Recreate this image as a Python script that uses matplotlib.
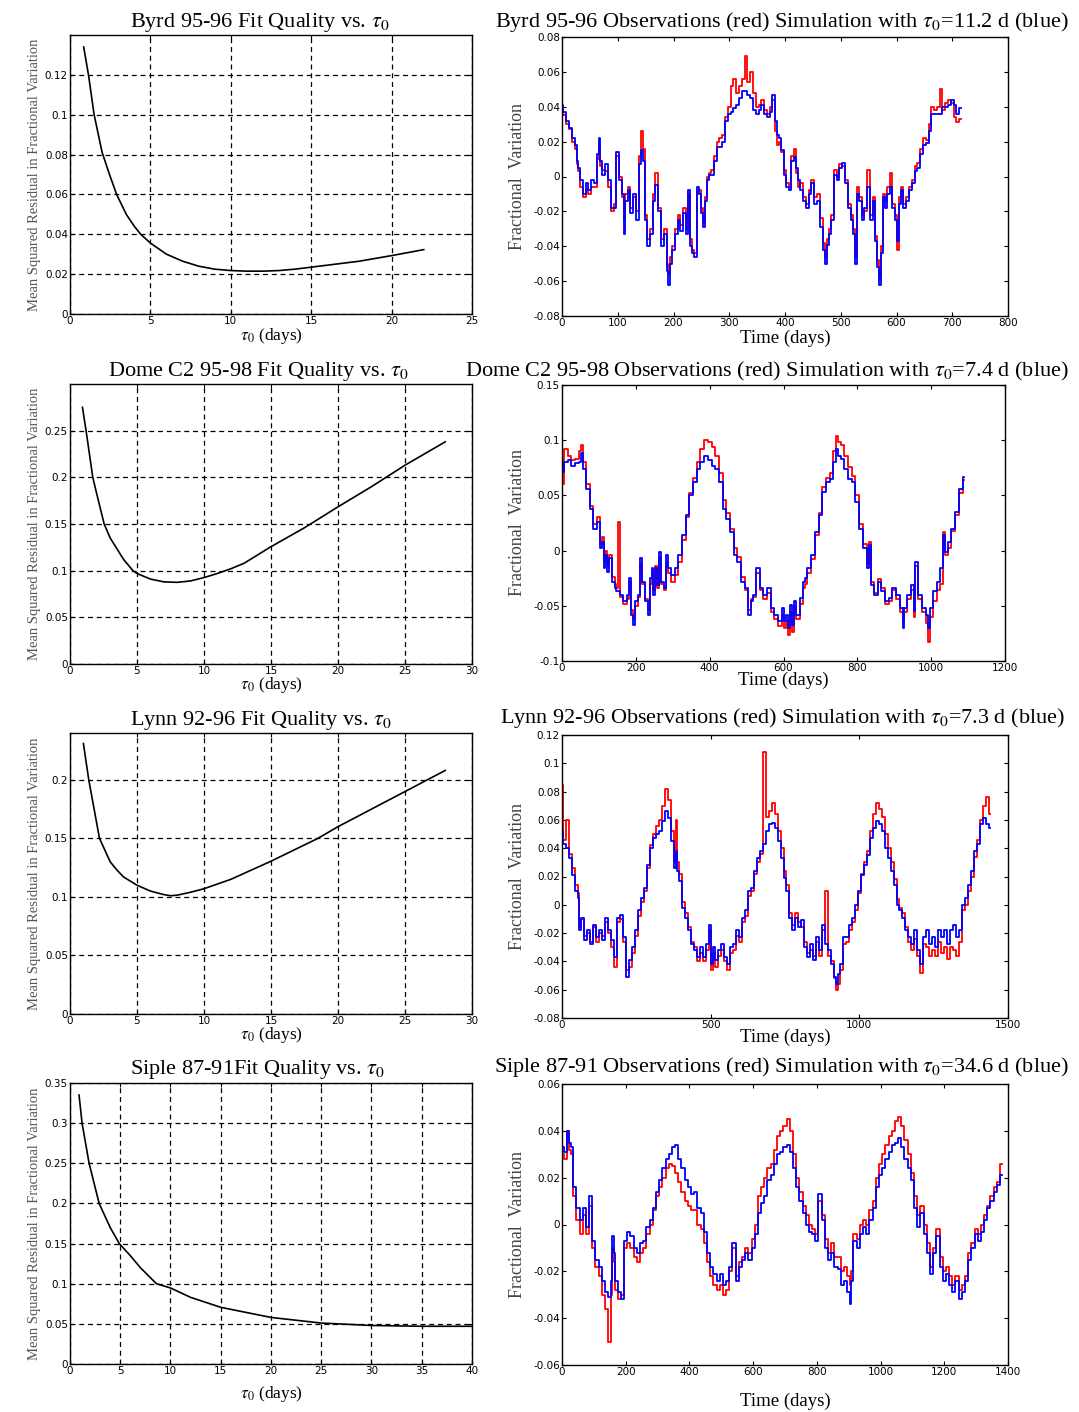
import numpy as np
import matplotlib
matplotlib.use("Agg")
import matplotlib.pyplot as plt

plt.rcParams['font.family'] = ['Liberation Serif', 'DejaVu Serif']
plt.rcParams['mathtext.fontset'] = 'stix'

# ---- fit quality curves (tau0 in days, mean squared residual) ----
byrd_tau = [0.85, 1.0, 1.15, 1.5, 2.0, 2.5, 2.9, 3.5, 4.0, 4.4, 5, 6, 7, 8, 9, 10,
            11, 12, 13, 14, 15, 16, 18, 20, 22]
byrd_msr = [0.134, 0.127, 0.12, 0.1, 0.081, 0.069, 0.06, 0.05, 0.044, 0.04, 0.0356,
            0.030, 0.0265, 0.024, 0.0225, 0.0218, 0.0215, 0.0215, 0.0218, 0.0225,
            0.0235, 0.0245, 0.0265, 0.0293, 0.0323]

dome_tau = [0.93, 1.2, 1.7, 2.0, 2.55, 3, 4, 4.7, 5, 6, 7, 8, 9, 10, 11, 12, 13, 15,
            17.5, 20, 22.5, 25, 28]
dome_msr = [0.275, 0.25, 0.2, 0.182, 0.15, 0.135, 0.112, 0.1, 0.097, 0.091, 0.088,
            0.0875, 0.089, 0.0926, 0.097, 0.102, 0.108, 0.1257, 0.146, 0.1684, 0.19,
            0.213, 0.238]

lynn_tau = [1.0, 1.4, 2.2, 3, 3.5, 4, 5, 6, 7, 7.5, 8, 9, 10, 12, 15, 18.5, 20, 25, 28]
lynn_msr = [0.231, 0.2, 0.15, 0.13, 0.123, 0.117, 0.11, 0.105, 0.102, 0.101, 0.1015,
            0.104, 0.107, 0.115, 0.1305, 0.15, 0.16, 0.19, 0.208]

siple_tau = [0.9, 1.2, 1.9, 2.9, 4, 4.9, 6, 7, 8.6, 10, 12, 15, 20, 25, 30, 35, 40]
siple_msr = [0.335, 0.3, 0.25, 0.2, 0.17, 0.15, 0.135, 0.12, 0.1, 0.0947, 0.083,
             0.0706, 0.058, 0.051, 0.048, 0.047, 0.047]

# ---- Byrd 95-96 time series ----
byrd_t = [0, 5, 10, 15, 20, 25, 28, 30, 35, 40,
          45, 50, 55, 60, 65, 68, 70, 75, 80, 85,
          90, 95, 100, 105, 110, 112, 115, 120, 125, 130,
          135, 140, 143, 147, 150, 155, 160, 165, 170, 175,
          180, 185, 190, 192, 195, 200, 205, 210, 215, 220,
          225, 228, 230, 235, 240, 243, 247, 250, 255, 258,
          262, 265, 270, 275, 280, 285, 290, 295, 300, 305,
          310, 315, 320, 325, 330, 335, 340, 345, 350, 355,
          360, 365, 370, 375, 380, 383, 387, 390, 395, 400,
          405, 410, 413, 418, 420, 425, 430, 435, 440, 445,
          450, 455, 460, 465, 470, 473, 477, 480, 485, 490,
          495, 500, 505, 510, 515, 520, 523, 527, 530, 535,
          540, 545, 550, 555, 560, 563, 567, 570, 573, 577,
          580, 585, 590, 595, 600, 603, 607, 610, 615, 620,
          625, 630, 635, 640, 645, 650, 655, 660, 665, 670,
          675, 680, 685, 690, 695, 700, 705, 710, 715]
byrd_sim = [0.041, 0.037, 0.032, 0.028, 0.022, 0.018, 0.009, 0.005, -0.002, -0.010,
            -0.004, -0.008, -0.002, -0.004, 0.013, 0.022, 0.009, 0.001, 0.007, -0.002,
            -0.018, -0.018, 0.014, -0.002, -0.010, -0.033, -0.014, -0.008, -0.021, -0.010,
            -0.025, 0.007, 0.015, 0.009, -0.025, -0.040, -0.033, -0.014, -0.005, -0.020,
            -0.040, -0.033, -0.054, -0.062, -0.050, -0.042, -0.033, -0.025, -0.031, -0.021,
            -0.033, -0.008, -0.040, -0.044, -0.046, -0.006, -0.010, -0.021, -0.029, -0.014,
            -0.002, 0.001, 0.001, 0.009, 0.017, 0.017, 0.020, 0.032, 0.036, 0.037,
            0.039, 0.041, 0.045, 0.049, 0.049, 0.047, 0.045, 0.038, 0.036, 0.038,
            0.041, 0.036, 0.034, 0.037, 0.047, 0.032, 0.024, 0.022, 0.015, 0.001,
            -0.006, -0.008, 0.009, 0.011, 0.005, -0.002, -0.008, -0.014, -0.018, -0.010,
            -0.004, -0.016, -0.014, -0.029, -0.042, -0.050, -0.039, -0.033, -0.025, 0.001,
            -0.002, 0.005, 0.008, -0.004, -0.018, -0.025, -0.033, -0.050, -0.010, -0.014,
            -0.025, -0.018, -0.006, -0.025, -0.014, -0.037, -0.052, -0.062, -0.044, -0.012,
            -0.018, -0.010, -0.006, -0.018, -0.025, -0.037, -0.016, -0.008, -0.018, -0.014,
            -0.008, -0.004, 0.003, 0.005, 0.013, 0.018, 0.019, 0.026, 0.036, 0.036,
            0.036, 0.036, 0.040, 0.040, 0.041, 0.044, 0.041, 0.036, 0.039]
byrd_obs = [0.038, 0.035, 0.030, 0.027, 0.020, 0.016, 0.007, 0.003, -0.006, -0.012,
            -0.008, -0.010, -0.006, -0.006, 0.010, 0.018, 0.006, 0.004, 0.003, -0.006,
            -0.020, -0.016, 0.012, 0.000, -0.012, -0.025, -0.010, -0.006, -0.018, -0.012,
            -0.020, 0.012, 0.026, 0.016, -0.022, -0.036, -0.030, -0.010, 0.002, -0.018,
            -0.036, -0.030, -0.050, -0.056, -0.046, -0.040, -0.030, -0.022, -0.028, -0.018,
            -0.030, -0.010, -0.036, -0.042, -0.044, -0.008, -0.008, -0.018, -0.026, -0.012,
            0.000, 0.002, 0.004, 0.012, 0.020, 0.022, 0.024, 0.034, 0.040, 0.052,
            0.056, 0.048, 0.052, 0.056, 0.069, 0.054, 0.060, 0.048, 0.040, 0.041,
            0.044, 0.038, 0.036, 0.040, 0.044, 0.026, 0.018, 0.020, 0.014, 0.004,
            -0.004, -0.006, 0.012, 0.016, 0.002, -0.006, -0.004, -0.012, -0.016, -0.008,
            -0.002, -0.012, -0.010, -0.024, -0.038, -0.046, -0.036, -0.030, -0.022, 0.004,
            0.000, 0.007, 0.006, -0.002, -0.016, -0.022, -0.030, -0.046, -0.006, -0.012,
            -0.022, -0.020, 0.004, -0.022, -0.012, -0.034, -0.048, -0.058, -0.040, -0.010,
            -0.014, -0.006, 0.002, -0.016, -0.022, -0.042, -0.012, -0.006, -0.016, -0.012,
            -0.006, -0.002, 0.006, 0.008, 0.016, 0.022, 0.021, 0.030, 0.040, 0.038,
            0.040, 0.050, 0.038, 0.042, 0.044, 0.042, 0.034, 0.031, 0.033]

# ---- Dome C2 95-98 time series ----
dome_t = [0, 10, 20, 30, 40, 50, 55, 60, 70, 80,
          90, 100, 105, 110, 115, 120, 125, 130, 140, 145,
          150, 155, 160, 170, 180, 185, 190, 195, 200, 210,
          215, 220, 230, 235, 240, 245, 250, 255, 260, 265,
          270, 280, 285, 290, 300, 310, 320, 330, 340, 350,
          360, 370, 380, 390, 400, 410, 420, 430, 440, 450,
          460, 470, 480, 490, 500, 510, 515, 520, 530, 540,
          550, 560, 570, 580, 590, 600, 605, 610, 615, 620,
          625, 630, 640, 650, 655, 660, 670, 680, 690, 700,
          710, 720, 730, 740, 745, 750, 760, 770, 780, 790,
          800, 810, 820, 830, 835, 840, 850, 860, 870, 880,
          890, 900, 910, 920, 925, 930, 940, 950, 955, 960,
          970, 980, 990, 995, 1000, 1010, 1020, 1030, 1035, 1040,
          1050, 1060, 1070, 1080, 1090]
dome_sim = [0.071, 0.080, 0.082, 0.077, 0.079, 0.080, 0.088, 0.074, 0.056, 0.038,
            0.020, 0.026, 0.002, 0.008, -0.016, -0.004, -0.019, -0.007, -0.028, -0.034,
            -0.037, -0.037, -0.040, -0.046, -0.040, -0.025, -0.058, -0.067, -0.046, -0.040,
            -0.007, -0.028, -0.046, -0.058, -0.025, -0.016, -0.040, -0.016, -0.031, -0.001,
            -0.028, -0.034, -0.004, -0.016, -0.022, -0.016, -0.004, 0.014, 0.032, 0.050,
            0.062, 0.074, 0.080, 0.086, 0.082, 0.077, 0.074, 0.062, 0.038, 0.029,
            0.017, -0.004, -0.010, -0.028, -0.034, -0.058, -0.046, -0.040, -0.016, -0.034,
            -0.040, -0.034, -0.052, -0.058, -0.064, -0.052, -0.064, -0.058, -0.070, -0.049,
            -0.067, -0.046, -0.058, -0.043, -0.028, -0.025, -0.016, -0.004, 0.017, 0.032,
            0.053, 0.062, 0.065, 0.080, 0.092, 0.086, 0.083, 0.074, 0.065, 0.062,
            0.044, 0.020, 0.002, -0.016, 0.005, -0.031, -0.040, -0.028, -0.037, -0.046,
            -0.043, -0.034, -0.040, -0.052, -0.070, -0.052, -0.040, -0.031, -0.055, -0.010,
            -0.040, -0.052, -0.058, -0.070, -0.052, -0.037, -0.028, -0.016, 0.014, -0.001,
            0.008, 0.020, 0.035, 0.056, 0.067]
dome_obs = [0.060, 0.092, 0.086, 0.082, 0.083, 0.090, 0.096, 0.080, 0.060, 0.040,
            0.024, 0.030, 0.006, 0.012, -0.010, 0.000, -0.014, -0.004, -0.024, -0.030,
            -0.034, 0.026, -0.042, -0.048, -0.044, -0.028, -0.054, -0.062, -0.050, -0.042,
            -0.012, -0.030, -0.044, -0.054, -0.030, -0.020, -0.036, -0.014, -0.034, -0.006,
            -0.030, -0.036, -0.010, -0.020, -0.028, -0.022, -0.010, 0.010, 0.030, 0.052,
            0.066, 0.080, 0.092, 0.100, 0.098, 0.094, 0.086, 0.070, 0.046, 0.034,
            0.020, 0.002, -0.006, -0.024, -0.036, -0.054, -0.044, -0.042, -0.020, -0.036,
            -0.044, -0.038, -0.056, -0.062, -0.068, -0.058, -0.070, -0.064, -0.076, -0.056,
            -0.074, -0.050, -0.062, -0.048, -0.034, -0.030, -0.020, -0.008, 0.014, 0.034,
            0.058, 0.066, 0.070, 0.090, 0.104, 0.098, 0.096, 0.086, 0.076, 0.068,
            0.050, 0.024, 0.006, -0.012, 0.008, -0.028, -0.038, -0.026, -0.034, -0.048,
            -0.046, -0.036, -0.044, -0.056, -0.064, -0.056, -0.044, -0.036, -0.060, -0.014,
            -0.044, -0.056, -0.066, -0.083, -0.060, -0.046, -0.036, -0.030, 0.017, -0.004,
            0.002, 0.018, 0.032, 0.052, 0.064]

# ---- Lynn 92-96 time series ----
lynn_t = [0, 10, 20, 30, 40, 50, 55, 60, 70, 80,
          90, 100, 110, 120, 130, 140, 150, 160, 170, 180,
          190, 200, 210, 220, 230, 240, 250, 260, 270, 280,
          290, 300, 310, 320, 330, 340, 350, 360, 370, 380,
          385, 390, 400, 410, 420, 430, 440, 450, 460, 470,
          480, 490, 500, 505, 510, 520, 530, 540, 550, 560,
          570, 580, 590, 600, 610, 620, 630, 640, 650, 660,
          670, 680, 690, 700, 710, 720, 730, 740, 750, 760,
          770, 780, 790, 800, 810, 820, 830, 840, 850, 860,
          870, 880, 890, 900, 910, 920, 925, 930, 940, 950,
          960, 970, 980, 990, 1000, 1010, 1020, 1030, 1040, 1050,
          1060, 1070, 1080, 1090, 1100, 1110, 1120, 1130, 1140, 1150,
          1160, 1170, 1180, 1190, 1200, 1210, 1220, 1230, 1240, 1250,
          1260, 1270, 1280, 1290, 1300, 1310, 1320, 1330, 1340, 1350,
          1360, 1370, 1380, 1390, 1400, 1410, 1420, 1430, 1440]
lynn_sim = [0.052, 0.043, 0.040, 0.033, 0.021, 0.010, 0.005, -0.018, -0.009, -0.025,
            -0.018, -0.028, -0.014, -0.023, -0.018, -0.025, -0.009, -0.018, -0.025, -0.037,
            -0.009, -0.007, -0.023, -0.051, -0.039, -0.030, -0.018, -0.004, 0.005, 0.012,
            0.028, 0.040, 0.047, 0.050, 0.052, 0.059, 0.066, 0.061, 0.045, 0.026,
            0.038, 0.024, 0.017, -0.002, -0.009, -0.018, -0.028, -0.032, -0.037, -0.030,
            -0.037, -0.028, -0.014, -0.042, -0.030, -0.039, -0.032, -0.028, -0.037, -0.042,
            -0.030, -0.028, -0.018, -0.023, -0.009, -0.004, 0.010, 0.012, 0.024, 0.033,
            0.038, 0.043, 0.052, 0.057, 0.058, 0.054, 0.045, 0.033, 0.019, 0.010,
            -0.009, -0.018, -0.009, -0.016, -0.011, -0.030, -0.037, -0.028, -0.039, -0.023,
            -0.032, -0.014, -0.028, -0.032, -0.042, -0.051, -0.056, -0.049, -0.042, -0.023,
            -0.023, -0.014, -0.009, 0.000, 0.010, 0.021, 0.028, 0.035, 0.047, 0.054,
            0.059, 0.057, 0.052, 0.040, 0.033, 0.024, 0.014, 0.000, -0.004, -0.009,
            -0.018, -0.023, -0.028, -0.018, -0.032, -0.042, -0.023, -0.018, -0.028, -0.023,
            -0.030, -0.018, -0.023, -0.018, -0.028, -0.018, -0.014, -0.023, -0.018, 0.000,
            0.005, 0.014, 0.024, 0.038, 0.043, 0.057, 0.061, 0.057, 0.054]
lynn_obs = [0.085, 0.046, 0.060, 0.036, 0.026, 0.014, 0.008, -0.016, -0.010, -0.022,
            -0.020, -0.026, -0.016, -0.026, -0.020, -0.022, -0.012, -0.020, -0.030, -0.044,
            -0.012, -0.010, -0.026, -0.046, -0.044, -0.034, -0.022, -0.008, 0.002, 0.010,
            0.026, 0.042, 0.050, 0.056, 0.060, 0.070, 0.082, 0.074, 0.052, 0.030,
            0.060, 0.030, 0.022, 0.002, -0.006, -0.016, -0.026, -0.030, -0.040, -0.034,
            -0.040, -0.032, -0.018, -0.046, -0.034, -0.044, -0.036, -0.032, -0.040, -0.046,
            -0.034, -0.032, -0.022, -0.026, -0.012, -0.008, 0.006, 0.010, 0.022, 0.030,
            0.036, 0.108, 0.062, 0.066, 0.072, 0.064, 0.052, 0.040, 0.024, 0.014,
            -0.006, -0.014, -0.006, -0.012, -0.016, -0.026, -0.034, -0.032, -0.036, -0.026,
            -0.036, -0.018, 0.010, -0.036, -0.040, -0.052, -0.060, -0.056, -0.046, -0.028,
            -0.026, -0.018, -0.012, -0.004, 0.008, 0.022, 0.030, 0.038, 0.052, 0.064,
            0.072, 0.068, 0.062, 0.050, 0.040, 0.030, 0.018, 0.004, -0.002, -0.006,
            -0.016, -0.026, -0.032, -0.024, -0.036, -0.048, -0.028, -0.030, -0.036, -0.032,
            -0.036, -0.026, -0.034, -0.030, -0.038, -0.030, -0.032, -0.036, -0.026, -0.004,
            0.000, 0.010, 0.020, 0.034, 0.046, 0.060, 0.070, 0.076, 0.064]

# ---- Siple 87-91 time series ----
siple_t = [0, 10, 20, 25, 30, 40, 50, 60, 70, 80,
           90, 100, 110, 120, 130, 140, 150, 155, 160, 165,
           170, 180, 190, 200, 210, 220, 230, 240, 250, 260,
           270, 280, 290, 300, 310, 320, 330, 340, 350, 360,
           370, 380, 390, 400, 410, 420, 430, 440, 450, 460,
           470, 480, 490, 500, 510, 520, 530, 540, 550, 560,
           570, 580, 590, 600, 610, 620, 630, 640, 650, 660,
           670, 680, 690, 700, 710, 720, 730, 740, 750, 760,
           770, 780, 790, 800, 810, 820, 830, 840, 850, 860,
           870, 880, 890, 900, 905, 910, 920, 930, 940, 950,
           960, 970, 980, 990, 1000, 1010, 1020, 1030, 1040, 1050,
           1060, 1070, 1080, 1090, 1100, 1110, 1120, 1130, 1140, 1150,
           1160, 1170, 1180, 1190, 1200, 1210, 1220, 1230, 1240, 1250,
           1260, 1270, 1280, 1290, 1300, 1310, 1320, 1330, 1340, 1350,
           1360, 1370, 1380]
siple_sim = [0.033, 0.031, 0.040, 0.035, 0.033, 0.016, 0.007, 0.002, 0.007, -0.001,
             0.012, -0.007, -0.015, -0.018, -0.024, -0.029, -0.031, -0.024, -0.005, -0.012,
             -0.024, -0.029, -0.032, -0.007, -0.003, -0.005, -0.010, -0.012, -0.008, -0.007,
             -0.001, 0.002, 0.007, 0.014, 0.019, 0.024, 0.028, 0.030, 0.033, 0.034,
             0.028, 0.024, 0.019, 0.016, 0.013, 0.014, 0.007, 0.005, -0.003, -0.012,
             -0.018, -0.021, -0.024, -0.021, -0.026, -0.024, -0.018, -0.008, -0.024, -0.018,
             -0.015, -0.012, -0.015, -0.010, -0.004, 0.005, 0.009, 0.012, 0.019, 0.021,
             0.026, 0.030, 0.031, 0.033, 0.034, 0.031, 0.024, 0.016, 0.010, 0.005,
             0.000, -0.003, -0.004, -0.007, 0.013, 0.002, -0.010, -0.015, -0.012, -0.018,
             -0.019, -0.026, -0.024, -0.029, -0.034, -0.024, -0.007, -0.010, -0.004, -0.001,
             -0.004, 0.002, 0.007, 0.016, 0.021, 0.024, 0.028, 0.031, 0.034, 0.035,
             0.037, 0.033, 0.028, 0.024, 0.019, 0.007, -0.001, 0.005, -0.004, -0.012,
             -0.021, -0.012, -0.005, -0.018, -0.024, -0.021, -0.026, -0.029, -0.024, -0.032,
             -0.029, -0.024, -0.015, -0.010, -0.004, -0.007, -0.003, 0.002, 0.007, 0.010,
             0.014, 0.017, 0.021]
siple_obs = [0.030, 0.028, 0.040, 0.032, 0.030, 0.012, 0.002, -0.004, 0.004, -0.004,
             0.008, -0.010, -0.018, -0.022, -0.030, -0.036, -0.050, -0.030, -0.010, -0.016,
             -0.028, -0.032, -0.030, -0.010, -0.008, -0.010, -0.014, -0.016, -0.012, -0.010,
             -0.004, 0.000, 0.006, 0.012, 0.016, 0.020, 0.024, 0.026, 0.025, 0.022,
             0.018, 0.014, 0.010, 0.008, 0.006, 0.006, 0.000, -0.002, -0.008, -0.016,
             -0.022, -0.026, -0.028, -0.026, -0.030, -0.028, -0.020, -0.010, -0.022, -0.016,
             -0.014, -0.010, -0.012, -0.006, 0.000, 0.012, 0.016, 0.020, 0.024, 0.026,
             0.032, 0.038, 0.040, 0.042, 0.045, 0.040, 0.030, 0.020, 0.014, 0.008,
             0.004, 0.000, -0.002, -0.004, 0.010, 0.004, -0.006, -0.012, -0.008, -0.014,
             -0.014, -0.020, -0.018, -0.022, -0.026, -0.020, -0.004, -0.006, 0.000, 0.002,
             0.000, 0.006, 0.010, 0.020, 0.026, 0.030, 0.034, 0.038, 0.040, 0.044,
             0.046, 0.042, 0.036, 0.030, 0.022, 0.012, 0.004, 0.008, 0.000, -0.008,
             -0.018, -0.010, -0.002, -0.014, -0.020, -0.018, -0.022, -0.026, -0.022, -0.028,
             -0.026, -0.022, -0.012, -0.008, -0.002, -0.004, 0.000, 0.004, 0.008, 0.012,
             0.016, 0.018, 0.026]

W, H = 1079, 1412
fig = plt.figure(figsize=(W / 100, H / 100), dpi=100)


def px_axes(left, top, right, bottom):
    return fig.add_axes([left / W, 1 - bottom / H, (right - left) / W, (bottom - top) / H])


def px_title(text, cx, baseline):
    fig.text(cx / W, 1 - baseline / H, text, fontsize=16, ha='center', va='baseline')


def style(ax):
    ax.tick_params(direction='in', top=True, right=True, length=3, width=0.8,
                   labelsize=7.5, pad=1.5)
    for lab in ax.get_xticklabels() + ax.get_yticklabels():
        lab.set_family('DejaVu Sans')
    for s in ax.spines.values():
        s.set_linewidth(1.0)


def fit_panel(box, tau, msr, xmax, ymax, yticks, xpad):
    ax = px_axes(*box)
    ax.plot(tau, msr, color='black', lw=1.2)
    ax.set_xlim(0, xmax)
    ax.set_ylim(0, ymax)
    ax.set_xticks(np.arange(0, xmax + 1, 5))
    ax.set_yticks(yticks)
    ax.set_yticklabels(['%g' % v for v in yticks])
    ax.grid(True, color='black', ls=(0, (4, 3)), lw=0.9)
    style(ax)
    ax.set_xlabel(r'$\tau_0$ (days)', fontsize=12.5, labelpad=xpad)
    ax.set_ylabel('Mean Squared Residual in Fractional Variation', fontsize=10.5,
                  color='#555555', labelpad=3)
    return ax


def series_panel(box, t, obs, sim, xmax, xstep, ylo, yhi, ystep, xpad):
    ax = px_axes(*box)
    ax.plot(t, obs, color='#ff0000', lw=1.3, drawstyle='steps-mid')
    ax.plot(t, sim, color='#0000ff', lw=1.3, drawstyle='steps-mid')
    ax.set_xlim(0, xmax)
    ax.set_ylim(ylo, yhi)
    ax.set_xticks(np.arange(0, xmax + 1, xstep))
    yt = np.round(np.arange(ylo, yhi + ystep / 2, ystep), 3)
    ax.set_yticks(yt)
    ax.set_yticklabels(['%g' % v if abs(v) > 1e-9 else '0' for v in yt])
    style(ax)
    ax.set_xlabel('Time (days)', fontsize=13.5, labelpad=xpad)
    ax.set_ylabel('Fractional  Variation', fontsize=13, color='#444444', labelpad=5)
    return ax


# row 1
fit_panel((70, 35, 472, 314), byrd_tau, byrd_msr, 25, 0.14,
          [0, 0.02, 0.04, 0.06, 0.08, 0.1, 0.12], 0)
px_title(r'Byrd 95-96 Fit Quality vs. $\tau_0$', 260, 27)
series_panel((562, 37, 1008, 316), byrd_t, byrd_obs, byrd_sim, 800, 100,
             -0.08, 0.08, 0.02, 1)
px_title(r'Byrd 95-96 Observations (red) Simulation with $\tau_0$=11.2 d (blue)', 782, 27)

# row 2
fit_panel((70, 384, 472, 664), dome_tau, dome_msr, 30, 0.3,
          [0, 0.05, 0.1, 0.15, 0.2, 0.25], -1)
px_title(r'Dome C2 95-98 Fit Quality vs. $\tau_0$', 258, 376)
series_panel((562, 385, 1005, 661), dome_t, dome_obs, dome_sim, 1200, 200,
             -0.1, 0.15, 0.05, -1)
px_title(r'Dome C2 95-98 Observations (red) Simulation with $\tau_0$=7.4 d (blue)', 767, 376)

# row 3
fit_panel((70, 733, 472, 1014), lynn_tau, lynn_msr, 30, 0.24,
          [0, 0.05, 0.1, 0.15, 0.2], -1)
px_title(r'Lynn 92-96 Fit Quality vs. $\tau_0$', 261, 725)
series_panel((562, 735, 1008, 1018), lynn_t, lynn_obs, lynn_sim, 1500, 500,
             -0.08, 0.12, 0.02, -1)
px_title(r'Lynn 92-96 Observations (red) Simulation with $\tau_0$=7.3 d (blue)', 782, 723)

# row 4
fit_panel((70, 1083, 472, 1364), siple_tau, siple_msr, 40, 0.35,
          [0, 0.05, 0.1, 0.15, 0.2, 0.25, 0.3, 0.35], 6)
px_title(r'Siple 87-91Fit Quality vs. $\tau_0$', 258, 1074)
series_panel((562, 1084, 1008, 1365), siple_t, siple_obs, siple_sim, 1400, 200,
             -0.06, 0.06, 0.02, 11)
px_title(r'Siple 87-91 Observations (red) Simulation with $\tau_0$=34.6 d (blue)', 781, 1072)

fig.savefig('out.png', dpi=100)
